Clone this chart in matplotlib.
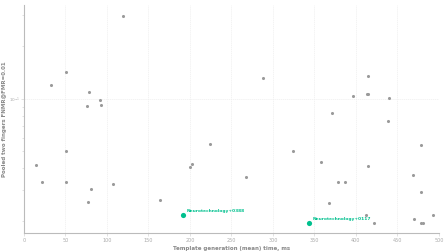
import matplotlib.pyplot as plt
import numpy as np
from matplotlib.ticker import NullFormatter, LogLocator

# other algorithms (grey)
time_ms = [119.6, 50.6, 32.1, 77.9, 92.0, 75.9, 92.8, 50.2, 14.8, 21.7, 50.6, 107.2, 80.3, 77.1,
           288.0, 224.5, 202.4, 199.6, 267.5, 323.7, 164.2,
           414.0, 396.8, 413.6, 414.9, 439.8, 371.0, 438.2, 478.0, 358.2, 414.0, 469.0, 378.3, 386.7,
           367.0, 411.6, 421.5, 478.3, 469.5, 478.0, 481.0, 492.4]
fnmr = [0.299, 0.142, 0.120, 0.1096, 0.098, 0.0904, 0.0916, 0.0504, 0.0416, 0.0334, 0.0334, 0.0326, 0.0305, 0.0257,
        0.132, 0.0553, 0.0425, 0.0405, 0.0355, 0.0504, 0.0264,
        0.1348, 0.104, 0.106, 0.106, 0.1017, 0.0835, 0.0746, 0.0544, 0.0434, 0.0414, 0.0365, 0.0334, 0.0334,
        0.0255, 0.0216, 0.0196, 0.0294, 0.0205, 0.0196, 0.0196, 0.0216]

# highlighted
hl_names = ['Neurotechnology+0388', 'Neurotechnology+0117']
hl_time = [191.2, 343.0]
hl_fnmr = [0.0216, 0.0195]

green = '#00c08e'
grey_txt = '#888888'

fig = plt.figure(figsize=(4.48, 2.52), dpi=100)
ax = fig.add_axes([0.0536, 0.0754, 0.926, 0.905])

ax.scatter(time_ms, fnmr, s=5, color='#9a9a9a', linewidths=0, zorder=3)
ax.scatter(hl_time, hl_fnmr, s=14, color=green, linewidths=0, zorder=4)
for n, t, f in zip(hl_names, hl_time, hl_fnmr):
    ax.annotate(n, (t, f), xytext=(3, 1.5), textcoords='offset points',
                fontsize=3.2, color=green, fontweight='bold', va='bottom', ha='left')

ax.set_yscale('log')
ax.set_xlim(0, 500)
ax.set_ylim(0.0171, 0.344)
ax.set_xticks(np.arange(0, 501, 50))
ax.yaxis.set_major_locator(LogLocator(base=10))
ax.yaxis.set_minor_formatter(NullFormatter())

ax.grid(True, which='major', color='#efefef', linewidth=0.5, linestyle=(0, (2, 1)))
for s in ['top', 'right']:
    ax.spines[s].set_visible(False)
for s in ['left', 'bottom']:
    ax.spines[s].set_color('#bbbbbb')
    ax.spines[s].set_linewidth(0.8)

ax.tick_params(axis='both', which='both', labelsize=3.5, labelcolor='#aaaaaa',
               color='#cccccc', length=2, width=0.4, pad=1.5)
ax.tick_params(axis='y', which='both', labelsize=3, pad=1)
ax.tick_params(axis='y', which='minor', length=1.5)

ax.set_xlabel('Template generation (mean) time, ms', fontsize=4, color=grey_txt,
              fontweight='bold', labelpad=2)
ax.set_ylabel('Pooled two fingers FNMR@FMR=0.01', fontsize=4, color=grey_txt,
              fontweight='bold')
ax.yaxis.set_label_coords(-0.042, 0.5)

fig.savefig('out.png', dpi=100)
